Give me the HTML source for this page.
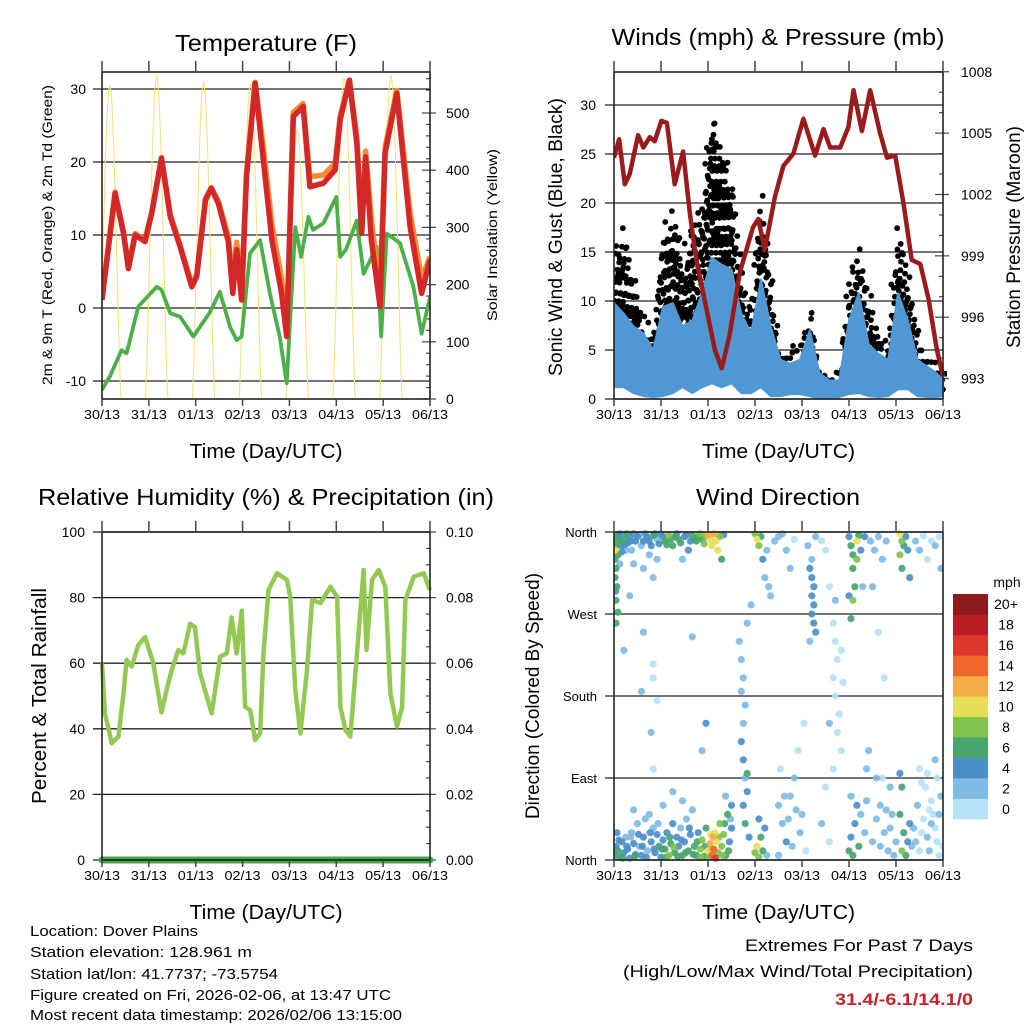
<!DOCTYPE html>
<html><head><meta charset="utf-8"><style>
html,body{margin:0;padding:0;background:#fff}
svg{display:block;font-family:"Liberation Sans",sans-serif}
</style></head><body>
<svg id="root" width="1024" height="1024" viewBox="0 0 1024 1024" xmlns="http://www.w3.org/2000/svg">
<g id="p1"></g>
<g id="p2"></g>
<g id="p3"></g>
<g id="p4"></g>
<g id="txt">
<text x="30" y="936" font-size="15" textLength="168" lengthAdjust="spacingAndGlyphs">Location: Dover Plains</text>
<text x="30" y="957" font-size="15" textLength="222" lengthAdjust="spacingAndGlyphs">Station elevation: 128.961 m</text>
<text x="30" y="979" font-size="15" textLength="248" lengthAdjust="spacingAndGlyphs">Station lat/lon: 41.7737; -73.5754</text>
<text x="30" y="1000" font-size="15" textLength="361" lengthAdjust="spacingAndGlyphs">Figure created on Fri, 2026-02-06, at 13:47 UTC</text>
<text x="30" y="1020" font-size="15" textLength="372" lengthAdjust="spacingAndGlyphs">Most recent data timestamp: 2026/02/06 13:15:00</text>
<text x="973" y="951" font-size="17" text-anchor="end" textLength="228" lengthAdjust="spacingAndGlyphs">Extremes For Past 7 Days</text>
<text x="973" y="977" font-size="17" text-anchor="end" textLength="350" lengthAdjust="spacingAndGlyphs">(High/Low/Max Wind/Total Precipitation)</text>
<text x="973" y="1005" font-size="17" font-weight="bold" fill="#c8202a" text-anchor="end" textLength="138" lengthAdjust="spacingAndGlyphs">31.4/-6.1/14.1/0</text>
</g>
</svg>
<script>
// ---- Temperature data (hours since 30/13) ----
const tempHours = [0,6.7,11,13.5,17,22,25.5,30.5,35,40,46,48.5,53,56,59.6,64.7,67,69,71.5,74,78.4,82.6,87,92,94.6,98,103,106.5,113.4,119.4,122,126.7,130.5,133,135,138,142.4,145,151,157.8,163.7,168];
const temp2m = [1.1,15.7,10.2,5.4,10,9.1,13,20.5,12.5,8.4,2.9,4.3,14.8,16.4,14.3,9.1,2,8,1.1,18,30.8,20.3,9.3,2,-3.9,26.2,27.6,16.6,17.1,18.9,25.8,31.2,22.6,10.2,20.7,9.3,0.2,21.2,29.4,11.1,2,6.6];
const temp9m = [1.5,15.9,10.4,5.8,10.2,9.3,13.2,20.6,12.8,8.6,3.2,4.6,15,16.5,14.6,9.8,3.5,9,2.5,18.5,30.9,22,11.5,4,-2.5,26.8,28,18,18.2,19.8,26.3,31.2,23.5,12,21.5,12,2,22,29.8,13,4,7];
const tdHours = [0,4,10,12.6,18.6,28,30.5,35,40,46.8,55,60.4,65.6,69,71.5,75.8,81,86,91,94.6,99,102,105.7,108,113.4,120,122,125,130.5,134,140.7,143,145.8,152.6,159.5,163.7,168];
const dewpoint = [-11.2,-9.4,-5.8,-6.2,0.2,2.9,2.5,-0.7,-1.2,-3.9,-0.7,2.2,-2.6,-4.4,-3.9,7.5,9.3,2,-3.9,-10.3,11.1,7,12.5,10.7,11.6,15.2,7,8,12,4.7,8.4,-3.9,10.2,8.9,2.9,-3.5,1.5];
const solarPeakHours = [4,28,52,76,100,124,148];
const solarPeaks = [547,565,553,550,470,560,565];
const tempTicks = [-10,0,10,20,30];
const solarTicks = [0,100,200,300,400,500];
const dayLabels = ["30/13","31/13","01/13","02/13","03/13","04/13","05/13","06/13"];

// ---- Wind / pressure data ----
const presHours = [0,2.6,5.5,8,12.3,15,18.3,20.8,24.2,27,31,35.3,38.7,42,45.5,51.5,55,59,64.3,71,73.7,77,82.2,86.5,91.6,96.7,102.7,107,110.4,115.5,119.7,122.3,126.6,130.8,135.9,139.4,143.6,147.8,152,156.4,160.6,164.9,168];
const pressure = [1003.8,1004.7,1002.5,1003,1004.9,1004.3,1004.8,1004.6,1005.6,1005.5,1002.5,1004.1,1001.1,998.8,997.2,994.4,993.5,995.1,998.2,1000.4,1000.8,999.3,1001.9,1003.4,1004,1005.7,1003.9,1005.2,1004.3,1004.3,1005.3,1007.1,1005.1,1007.1,1005,1003.8,1003.9,1001.6,998.8,998.6,996.9,994.4,993.1];
const windHours = [0,5,10,15,20,25,30,35,40,45,50,55,60,65,70,75,80,85,90,95,100,105,110,115,120,125,130,135,140,145,150,155,160,165,168];
const sonicHigh = [9.8,8.7,7.4,6.7,5,9.4,9.8,7.4,8,10.8,14.4,13.7,13.2,8.7,6.7,12.2,7.4,4,3.6,4,7,2.6,1.9,1.9,8,10.8,5.6,4.6,4,10.8,8,4,3.3,2.6,1.9];
const sonicLow = [1.2,1.2,0.6,0.3,0.2,0.3,0.6,1.2,0.6,1.2,1.6,1.2,1.6,0.6,0.6,1.2,0.3,0.3,0.5,0.5,0.3,0,0,0.2,0.5,0.6,0.3,0.2,0.3,1,1,0.3,0.2,0.2,0.3];
const gustMax = [16,18.5,14,10,8,18,21,15,19,21,31,27,24,14,10,22,14,6,7,7,11,4,4,4,13,17,12,8,7,19,14,8,6,5,4];
const windTicks = [0,5,10,15,20,25,30];
const presTicks = [993,996,999,1002,1005,1008];

// ---- Humidity / precip data ----
const rhHours = [0,1.5,5,8.4,11,12.6,15.2,18.6,22,26.3,30.5,33.1,35.7,39.1,41.7,45.1,47.6,50.2,53.6,56.2,60.5,63.9,66.4,69,71.6,73.3,75.9,78.4,81,82.7,85.3,89.6,94.7,96.4,99,101.6,105,107.6,111.9,117,120.4,122.1,124.7,127.2,130.6,134,135.4,138.3,141.7,145.1,147.7,151.1,153.7,155.4,159.7,164.8,168];
const rhValues = [60,44.7,35.6,37.6,50.8,61,59,65.5,68,60,45,51.8,57.9,64,63,72,71,57,50,44.7,62,63,74,63,76,46.7,45.7,36.6,38.6,63,82.3,87.4,85.4,80.3,51.8,38.6,57.9,79.3,78.3,83.3,80.3,46.7,39.6,37.6,63,88.4,64,85.4,88.4,83.3,50.8,40.7,46.7,79.3,86.4,87.4,82.3];
const precipHours = [0,168];
const precipValues = [0,0];
const rhTicks = [0,20,40,60,80,100];
const precipTicks = ["0.00","0.02","0.04","0.06","0.08","0.10"];

// ---- Wind direction observations [hour, degrees, mph] ----
const windDirObs = [[1,355,6],[2,350,7],[3,358,5],[4,345,4],[5,352,6],[6,357,3],[7,348,5],[8,355,4],[9,340,3],[10,358,5],[0.5,330,7],[1,320,6],[1.5,300,6],[1,285,7],[2,272,6],[1,260,7],[0.5,340,10],[3,325,3],[12,355,4],[14,345,3],[16,358,5],[18,350,4],[20,356,6],[22,352,3],[24,358,4],
[26,350,6],[28,356,8],[30,345,7],[32,358,5],[34,348,6],[36,355,4],[38,340,4],[40,356,7],[42,350,6],[44,358,8],[46,347,9],[48,357,12],[49,352,10],[50,345,10],[51,358,13],[52,350,11],[53,340,10],[54,355,9],[55,330,7],[56,357,5],[35,330,3],[22,330,2],[18,335,3],[15,320,2],[10,325,3],[20,310,2],
[2.5,357,5],[3.5,350,6],[5.5,346,5],[6.5,358,7],[8.5,350,5],[11,350,4],[13,357,3],[15,350,5],[17,354,4],[19,345,5],[21,358,5],[23,347,4],[25,355,5],[27,346,7],[29,352,6],[31,355,6],[33,352,7],[37,357,5],[39,350,5],[41,352,6],[43,355,7],[45,352,6],[47,355,8],[0.5,310,6],[1.5,345,6],[0.8,295,5],[2,335,6],[4,338,4],[6,340,3],
[5,230,3],[15,250,2],[20,200,1],[20,215,1],[22,175,1],[19,140,2],[14,185,3],[40,245,3],[47,150,4],[45,120,2],[20,100,1],[8,290,3],
[0.5,5,6],[1,15,5],[1.5,30,4],[2,10,7],[3,3,6],[4,20,5],[5,8,4],[6,25,3],[7,12,5],[8,2,4],[9,30,3],[10,18,5],[11,6,4],[12,40,2],[13,15,3],[14,5,5],[15,25,4],[16,45,2],[17,10,3],[18,50,2],[19,20,4],[20,35,3],[21,8,5],[22,28,4],[23,15,7],[24,3,5],[25,22,4],[26,12,7],[27,30,5],[28,5,8],[29,18,6],[30,40,4],[31,8,7],[32,25,5],[33,15,4],[34,35,3],[35,5,6],[36,20,5],[37,45,3],[38,10,6],[39,28,4],[40,55,2],[41,15,6],[42,5,7],[43,30,5],[44,12,8],[45,22,9],[46,4,6],[47,35,7],[48,10,10],[49,18,13],[50,5,14],[50.5,25,12],[51,12,15],[51.5,30,11],[52,2,16],[52.5,20,10],[53,8,9],[54,40,8],[55,15,9],[56,28,8],[57,5,7],[58,50,6],[59,20,4],[60,35,5],[57,70,3],[60,60,4],
[0.5,12,5],[2.5,22,4],[4.5,2,6],[6.5,15,5],[8.5,25,3],[10.5,4,6],[12.5,28,4],[14.5,15,5],[16.5,3,4],[18.5,30,5],[20.5,12,4],[22.5,40,3],[24.5,12,6],[26.5,3,7],[28.5,25,7],[30.5,14,8],[32.5,4,7],[34.5,22,5],[36.5,8,7],[38.5,35,4],[40.5,6,7],[42.5,20,6],[44.5,3,8],[46.5,15,7],[48.5,3,9],[49.5,28,11],[50,12,13],[53.5,25,9],[55.5,5,9],[56.5,40,7],[58.5,10,6],[59.5,45,3],[10,55,3],[25,60,2],[35,65,3],[30,75,2],
[64,240,2],[65,220,3],[66,200,3],[65,185,2],[67,170,3],[66,150,2],[65,130,4],[66,110,4],[67,90,3],[68,75,5],[66,60,4],[67,40,6],[69,25,4],[68,95,6],[68,260,2],[70,280,2],
[72,358,8],[73,352,10],[74,345,9],[75,355,7],[76,330,4],[77,310,3],[78,340,3],[79,300,2],[80,290,2],[72,8,8],[73,15,10],[74,3,9],[75,25,7],[76,10,6],[77,35,4],[78,5,3],[74,45,5],
[82,350,2],[84,355,3],[86,358,2],[88,340,2],[90,320,2],[92,352,1],[84,60,2],[86,40,3],[88,20,4],[85,100,1],[90,70,2],[92,90,3],[95,30,2],[96,50,2],[98,10,1],[94,120,1],[97,150,1],
[100,320,4],[101,310,4],[102,300,5],[101,290,4],[102,280,5],[101,270,4],[102,260,4],[103,250,4],[100,240,3],[101,330,3],[99,345,3],[103,355,2],
[106,350,1],[108,340,1],[110,300,1],[112,260,1],[113,240,1],[114,220,1],[112,200,1],[113,180,1],[115,160,1],[114,140,1],[116,120,1],[112,100,1],[110,150,2],[108,80,1],[106,40,2],[110,20,1],[117,195,1],[113,285,2],[116,230,1],
[120,355,5],[121,345,6],[122,335,7],[122,320,6],[123,300,6],[122,285,8],[121,265,7],[124,350,10],[124,330,9],[125,356,7],[120,290,4],[126,340,5],[128,355,4],[127,300,3],[120,10,6],[121,25,5],[122,5,6],[123,40,4],[124,60,4],[121,70,3],[125,15,6],[126,50,3],[128,30,2],[129,65,3],[129,100,2],
[131,350,3],[133,340,2],[135,355,3],[137,330,2],[139,350,2],[132,300,2],[135,250,1],[138,200,1],[130,120,2],[134,90,2],[136,60,2],[138,30,3],[140,10,2],[142,50,3],[144,20,3],[141,80,2],[143,5,2],
[146,358,10],[147,350,9],[148,345,7],[146,335,8],[147,320,6],[149,355,5],[150,340,4],[151,310,4],[148,30,6],[147,10,8],[146,50,6],[149,5,7],[150,20,5],[147,80,7],[151,40,4],[146,95,5],[152,15,3],
[154,350,2],[156,340,2],[158,356,1],[160,330,1],[162,350,1],[164,345,2],[166,355,1],[167,320,2],[155,60,2],[157,30,1],[159,80,1],[161,10,2],[163,50,1],[165,20,1],[167,70,2],[160,95,1],[164,110,2],[156,100,1],[162,40,2],[166,5,1],
[154,20,2],[156,10,1],[158,45,1],[160,25,2],[162,65,1],[164,35,1],[166,50,2],[168,15,1],[153,35,3],[157,85,1],[161,55,1],[165,90,1],[132,20,2],[134,45,3],[136,15,2],[139,55,2],[141,35,2],[137,90,1],[84,5,3],[87,70,2],[89,45,2],[91,15,2],[93,55,2]];
const dirTickLabels = ["North","East","South","West","North"];
const speedBinLabels = ["0","2","4","6","8","10","12","14","16","18","20+"];
const speedBinColors = ["#b6e2f8","#80bbe5","#4a8fc8","#48a56e","#7fc24c","#e6de58","#f6aa48","#ef662c","#dc382b","#bb1d25","#8e1a1c"];

const NS="http://www.w3.org/2000/svg";
function mk(parent,tag,attrs,text){const e=document.createElementNS(NS,tag);for(const k in attrs)e.setAttribute(k,attrs[k]);if(text!==undefined)e.textContent=text;parent.appendChild(e);return e;}

function frame(g,x0,x1,y0,y1,xs){
  dayLabels.forEach((lab,i)=>{
    const x=xs(i*24);
    const t=mk(g,'line',{x1:x,x2:x,y1:y0-11,y2:y0,stroke:'#444','stroke-width':1.5});
    
    
    const tb=mk(g,'line',{x1:x,x2:x,y1:y1,y2:y1+7,stroke:'#444','stroke-width':1.5});
    
    
    const tl=mk(g,'text',{x:x,y:y1+20,'font-size':13,'text-anchor':'middle',textLength:36,lengthAdjust:'spacingAndGlyphs'},lab);
    
    
  });
  const xt=mk(g,'text',{x:(x0+x1)/2,y:y1+59,'font-size':20,'text-anchor':'middle',textLength:153,lengthAdjust:'spacingAndGlyphs'},'Time (Day/UTC)');
  
  
}
function box(g,x0,x1,y0,y1){
  const r=mk(g,'rect',{x:x0,y:y0,width:x1-x0,height:y1-y0,fill:'none',stroke:'#222','stroke-width':1.6});
  
  
}
function grid(g,x0,x1,y,color){
  const l=mk(g,'line',{x1:x0-9,x2:x1,y1:y,y2:y,stroke:color||'#222','stroke-width':1.3});
  
  
}
function rtick(g,x1,y,len){
  const l=mk(g,'line',{x1:x1-len,x2:x1+(len>5?6:0),y1:y,y2:y,stroke:'#444','stroke-width':1.2});
  
  
}
function pathFrom(xsArr,ysArr,xf,yf){return xsArr.map((h,i)=>(i?'L':'M')+xf(h).toFixed(1)+','+yf(ysArr[i]).toFixed(1)).join('');}
function title(g,x,y,s,w){const t=mk(g,'text',{x:x,y:y,'font-size':23,'text-anchor':'middle',textLength:w,lengthAdjust:'spacingAndGlyphs'},s);}
function vlabel(g,x,y,s,size,w,name){const t=mk(g,'text',{x:0,y:0,'font-size':size,'text-anchor':'middle',transform:`translate(${x},${y}) rotate(-90)`,textLength:w,lengthAdjust:'spacingAndGlyphs'},s);}

// ===== Panel 1: Temperature =====
(function(){
  const g=document.getElementById('p1');
  const X0=102,X1=430,Y0=72,Y1=399;
  const x=h=>X0+h/168*(X1-X0);
  const yT=v=>308-v*7.3;
  const yS=s=>399-s*0.572;
  title(g,266,51,'Temperature (F)',182);
  tempTicks.forEach(v=>{grid(g,X0,X1,yT(v));const t=mk(g,'text',{x:86,y:yT(v)+5,'font-size':14,'text-anchor':'end'},v);});
  for(let s=0;s<=560;s+=20){rtick(g,X1,yS(s),s%100===0?8:4);}
  solarTicks.forEach(s=>{const t=mk(g,'text',{x:446,y:yS(s)+5,'font-size':14},s);});
  vlabel(g,52,235,'2m & 9m T (Red, Orange) & 2m Td (Green)',14,300,'y-axis-title-left');
  vlabel(g,497,235,'Solar Insolation (Yellow)',14,172,'y-axis-title-right');
  const clip=mk(g,'clipPath',{id:'c1'});mk(clip,'rect',{x:X0,y:Y0,width:X1-X0,height:Y1-Y0});
  const pg=mk(g,'g',{'clip-path':'url(#c1)'});
  solarPeakHours.forEach((ph,k)=>{
    let d='';
    for(let h=ph-6;h<=ph+6;h+=0.25){const u=Math.max(0,Math.cos(Math.PI/2*(h-ph)/5.8));const s=solarPeaks[k]*Math.pow(u,1.4);d+=(d?'L':'M')+x(h).toFixed(1)+','+yS(s).toFixed(1);}
    const p=mk(pg,'path',{d:d,fill:'none',stroke:'#f8e27a','stroke-width':1.1});
    
    
  });
  const pdw=mk(pg,'path',{d:pathFrom(tdHours,dewpoint,x,yT),fill:'none',stroke:'#4daf4a','stroke-width':3.8,'stroke-linejoin':'round'});
  
  
  const po=mk(pg,'path',{d:pathFrom(tempHours,temp9m,x,yT),fill:'none',stroke:'#f58a32','stroke-width':5.5,'stroke-linejoin':'round'});
  
  
  const pr=mk(pg,'path',{d:pathFrom(tempHours,temp2m,x,yT),fill:'none',stroke:'#d42828','stroke-width':5.5,'stroke-linejoin':'round'});
  
  
  box(g,X0,X1,Y0,Y1);
  frame(g,X0,X1,Y0,Y1,x);
})();

// ===== Panel 2: Winds & Pressure =====
(function(){
  const g=document.getElementById('p2');
  const X0=614,X1=943,Y0=72,Y1=399;
  const x=h=>X0+h/168*(X1-X0);
  const yW=v=>399-v*9.8;
  const yP=p=>399-(p-992)*20.45;
  title(g,778,45,'Winds (mph) & Pressure (mb)',333);
  windTicks.forEach(v=>{grid(g,X0,X1,yW(v));const t=mk(g,'text',{x:596,y:yW(v)+5,'font-size':14,'text-anchor':'end'},v);});
  for(let p=992;p<=1008;p++){rtick(g,X1,yP(p),(p-993)%3===0?8:4);}
  presTicks.forEach(p=>{const t=mk(g,'text',{x:961,y:yP(p)+5,'font-size':14},p);});
  vlabel(g,562,237,'Sonic Wind & Gust (Blue, Black)',19,278,'y-axis-title-left');
  vlabel(g,1020,237,'Station Pressure (Maroon)',19,222,'y-axis-title-right');
  const clip=mk(g,'clipPath',{id:'c2'});mk(clip,'rect',{x:X0,y:Y0-4,width:X1-X0+4,height:Y1-Y0+4});
  const pg=mk(g,'g',{'clip-path':'url(#c2)'});
  let j=0;
  windHours.forEach((h,i)=>{
    const lo=sonicHigh[i]*0.45, hi=gustMax[i];
    const nxt=i<windHours.length-1?i+1:i;
    const hN=windHours[nxt], hiN=gustMax[nxt], loN=sonicHigh[nxt]*0.45;
    for(let s=0;s<8;s++){
      const f=s/8; j++;
      const hh=h+(hN-h)*f;
      const top=hi+(hiN-hi)*f-((s*5)%4)*0.9-1;
      const bot=lo+(loN-lo)*f;
      let k=0;
      for(let v=bot+((j*7)%10)*0.12;v<=top;v+=1.25+((k+j)%3)*0.35){
        k++;
        const dx=(((k*3+j*5)%7)-3)*0.9;
        const c=mk(pg,'circle',{cx:(x(hh)+dx).toFixed(1),cy:yW(v).toFixed(1),r:2.9,fill:'#000'});
        
        
      }
    }
  });
  let d=pathFrom(windHours,sonicHigh,x,yW);
  for(let i=windHours.length-1;i>=0;i--)d+='L'+x(windHours[i]).toFixed(1)+','+yW(sonicLow[i]).toFixed(1);
  const band=mk(pg,'path',{d:d+'Z',fill:'#4f98d3',stroke:'#4f98d3','stroke-width':2,'stroke-linejoin':'round'});
  
  
  const pp=mk(pg,'path',{d:pathFrom(presHours,pressure,x,yP),fill:'none',stroke:'#9a1b1c','stroke-width':4.5,'stroke-linejoin':'round'});
  
  
  box(g,X0,X1,Y0,Y1);
  frame(g,X0,X1,Y0,Y1,x);
})();

// ===== Panel 3: RH & Precip =====
(function(){
  const g=document.getElementById('p3');
  const X0=102,X1=430,Y0=532,Y1=860;
  const x=h=>X0+h/168*(X1-X0);
  const yR=v=>860-v*3.28;
  const yPr=v=>860-v*3280;
  title(g,266,505,'Relative Humidity (%) & Precipitation (in)',456);
  rhTicks.forEach(v=>{grid(g,X0,X1,yR(v));const t=mk(g,'text',{x:85,y:yR(v)+5,'font-size':14,'text-anchor':'end'},v);});
  for(let v=0;v<=100;v+=5){rtick(g,X1,yR(v),v%20===0?8:4);}
  precipTicks.forEach((s,i)=>{const t=mk(g,'text',{x:446,y:yR(i*20)+5,'font-size':14},s);});
  vlabel(g,46,696,'Percent & Total Rainfall',20,216,'y-axis-title-left');
  const pr=mk(g,'path',{d:pathFrom(precipHours,precipValues,x,yPr),fill:'none',stroke:'#44a844','stroke-width':7,'stroke-linecap':'round'});
  
  
  const rl=mk(g,'path',{d:pathFrom(rhHours,rhValues,x,yR),fill:'none',stroke:'#93c952','stroke-width':4.5,'stroke-linejoin':'round'});
  
  
  box(g,X0,X1,Y0,Y1);
  frame(g,X0,X1,Y0,Y1,x);
})();

// ===== Panel 4: Wind Direction =====
(function(){
  const g=document.getElementById('p4');
  const X0=614,X1=943,Y0=532,Y1=860;
  const x=h=>X0+h/168*(X1-X0);
  const yD=d=>860-d/360*328;
  title(g,778,505,'Wind Direction',164);
  dirTickLabels.forEach((lab,i)=>{grid(g,X0,X1,yD(i*90));const t=mk(g,'text',{x:597,y:yD(i*90)+5,'font-size':13,'text-anchor':'end'},lab);});
  vlabel(g,539,696,'Direction (Colored By Speed)',19,246,'y-axis-title-left');
  const clip=mk(g,'clipPath',{id:'c4'});mk(clip,'rect',{x:X0,y:Y0-3,width:X1-X0,height:Y1-Y0+6});
  const pg=mk(g,'g',{'clip-path':'url(#c4)'});
  const sorted=windDirObs.slice().sort((a,b)=>a[2]-b[2]);
  sorted.forEach(o=>{
    const bin=Math.min(10,Math.floor(o[2]/2));
    const c=mk(pg,'circle',{cx:x(o[0]).toFixed(1),cy:yD(o[1]).toFixed(1),r:3.6,fill:speedBinColors[bin],'fill-opacity':0.92});
    
    
  });
  box(g,X0,X1,Y0,Y1);
  frame(g,X0,X1,Y0,Y1,x);
  const cb=mk(g,'g',{});
  
  
  const bh=(819-594)/11;
  speedBinColors.forEach((col,i)=>{
    const y=819-(i+1)*bh;
    const r=mk(cb,'rect',{x:953,y:y.toFixed(1),width:35,height:(bh+0.3).toFixed(1),fill:col});
    
    
    const t=mk(cb,'text',{x:1006,y:(y+bh/2+5).toFixed(1),'font-size':14,'text-anchor':'middle'},speedBinLabels[i]);
    
    
  });
  const m=mk(cb,'text',{x:1007,y:587,'font-size':14,'text-anchor':'middle'},'mph');
  
  
})();
</script>
</body></html>
